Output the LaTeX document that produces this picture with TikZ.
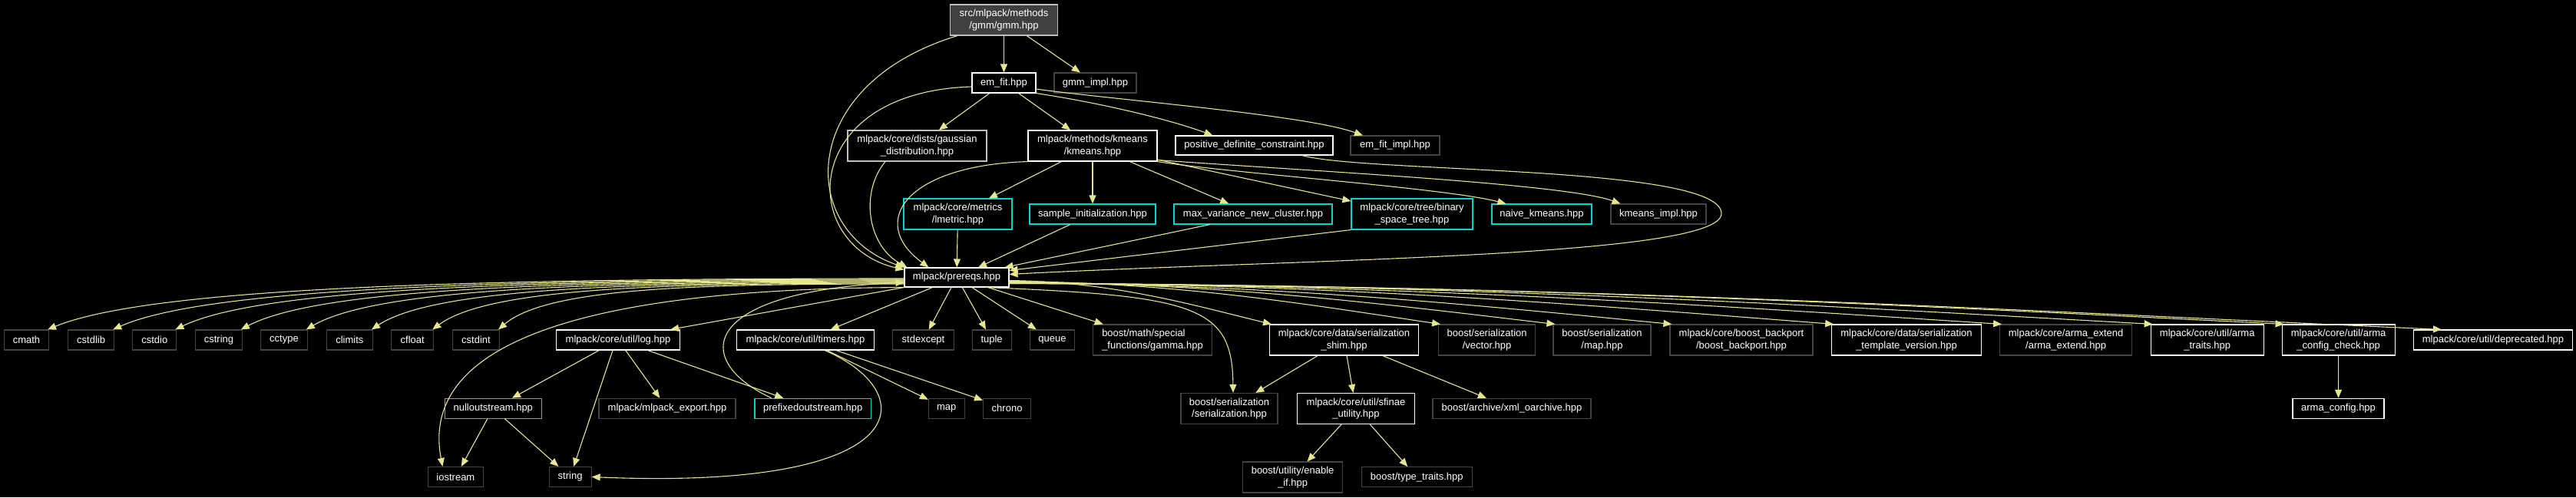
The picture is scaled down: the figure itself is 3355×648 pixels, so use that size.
\documentclass[tikz,border=0pt]{standalone}
\usepackage{fontspec}
\setmainfont{Liberation Sans}
\usetikzlibrary{arrows.meta}
\definecolor{edgec}{HTML}{E6E68F}
\definecolor{extc}{HTML}{444444}
\definecolor{truncc}{RGB}{0,215,215}
\definecolor{rootfill}{HTML}{404040}
\definecolor{rootdraw}{HTML}{BFBFBF}
\tikzset{
  box/.style={draw, rectangle, line width=1.1pt, fill=black, text=white, inner xsep=2pt, inner ysep=0pt,
    align=center, font=\fontsize{13}{15.5}\selectfont, minimum height=26pt},
  tall/.style={minimum height=40pt},
  doc/.style={box, draw=white},
  ext/.style={box, draw=extc},
  trunc/.style={box, draw=truncc},
  root/.style={box, draw=rootdraw, fill=rootfill},
  grayb/.style={box, draw=rootdraw},
  edge/.style={draw=edgec, line width=1.1pt, -{Triangle[length=11pt,width=9pt]}},
}
\begin{document}
\begin{tikzpicture}[x=1pt,y=-1pt]
\fill[black] (0,0) rectangle (3355,648);
\useasboundingbox (0,0) rectangle (3355,648);
% row 1-2
\node[root, tall, minimum width=140pt] (gmm) at (1307.5,26) {src/mlpack/methods\\/gmm/gmm.hpp};
\node[doc, minimum width=83pt] (emfit) at (1307.5,108) {em\_fit.hpp};
\node[ext, minimum width=107pt] (gmmimpl) at (1426.5,108) {gmm\_impl.hpp};
% row 3
\node[grayb, tall, minimum width=181pt] (gauss) at (1194.5,190) {mlpack/core/dists/gaussian\\\_distribution.hpp};
\node[doc, tall, minimum width=168pt] (kmeans) at (1423,190) {mlpack/methods/kmeans\\/kmeans.hpp};
\node[doc, minimum width=205pt, minimum height=25pt] (pdc) at (1633.5,189.5) {positive\_definite\_constraint.hpp};
\node[ext, minimum width=116pt, minimum height=25pt] (emfitimpl) at (1817,189.5) {em\_fit\_impl.hpp};
% row 4
\node[trunc, tall, minimum width=141pt] (lmetric) at (1247.5,279) {mlpack/core/metrics\\/lmetric.hpp};
\node[trunc, minimum width=164pt] (si) at (1423,279) {sample\_initialization.hpp};
\node[trunc, minimum width=206pt] (mv) at (1632,279) {max\_variance\_new\_cluster.hpp};
\node[trunc, tall, minimum width=158pt] (bst) at (1839,279) {mlpack/core/tree/binary\\\_space\_tree.hpp};
\node[trunc, minimum width=130pt] (naive) at (2008,279) {naive\_kmeans.hpp};
\node[ext, minimum width=124pt] (kimpl) at (2160,279) {kmeans\_impl.hpp};
% row 5
\node[doc, minimum width=136pt, minimum height=25pt] (prereqs) at (1246,361.5) {mlpack/prereqs.hpp};
% row 6
\node[ext, minimum width=58pt] (cmath) at (34.5,443) {cmath};
\node[ext, minimum width=60pt] (cstdlib) at (118.6,443) {cstdlib};
\node[ext, minimum width=57pt] (cstdio) at (201.3,443) {cstdio};
\node[ext, minimum width=60.5pt] (cstring) at (285,443) {cstring};
\node[ext, minimum width=60.5pt] (cctype) at (370,443) {cctype};
\node[ext, minimum width=60pt] (climits) at (455.4,443) {climits};
\node[ext, minimum width=55pt] (cfloat) at (537.2,443) {cfloat};
\node[ext, minimum width=61pt] (cstdint) at (620,443) {cstdint};
\node[doc, minimum width=161pt] (log) at (805,443) {mlpack/core/util/log.hpp};
\node[doc, minimum width=179pt] (timers) at (1049,443) {mlpack/core/util/timers.hpp};
\node[ext, minimum width=79.5pt] (stdexcept) at (1202.5,443) {stdexcept};
\node[ext, minimum width=51pt] (tuple) at (1291.6,443) {tuple};
\node[ext, minimum width=57.4pt] (queue) at (1370.5,443) {queue};
\node[ext, tall, minimum width=155pt, align=left] (gamma) at (1501,443) {boost/math/special\\\_functions/gamma.hpp};
\node[doc, tall, minimum width=194pt] (shim) at (1750.5,443) {mlpack/core/data/serialization\\\_shim.hpp};
\node[ext, tall, minimum width=126pt] (vector) at (1936.6,443) {boost/serialization\\/vector.hpp};
\node[ext, tall, minimum width=127pt] (maphpp) at (2086.5,443) {boost/serialization\\/map.hpp};
\node[ext, tall, minimum width=186pt] (backport) at (2268,443) {mlpack/core/boost\_backport\\/boost\_backport.hpp};
\node[doc, tall, minimum width=194.5pt] (tv) at (2483,443) {mlpack/core/data/serialization\\\_template\_version.hpp};
\node[ext, tall, minimum width=172pt] (ae) at (2690.6,443) {mlpack/core/arma\_extend\\/arma\_extend.hpp};
\node[doc, tall, minimum width=147pt] (at) at (2874.7,443) {mlpack/core/util/arma\\\_traits.hpp};
\node[doc, tall, minimum width=147pt] (acc) at (3045.6,443) {mlpack/core/util/arma\\\_config\_check.hpp};
\node[doc, minimum width=207pt] (depr) at (3247,443) {mlpack/core/util/deprecated.hpp};
% row 7
\node[trunc, minimum width=125.5pt] (nos) at (642.3,532.3) {nulloutstream.hpp};
\node[ext, minimum width=178pt] (mexp) at (869,532.3) {mlpack/mlpack\_export.hpp};
\node[trunc, minimum width=151.5pt] (pfo) at (1058.7,532.3) {prefixedoutstream.hpp};
\node[ext, minimum width=46.7pt] (map) at (1232.7,532.3) {map};
\node[ext, minimum width=62pt] (chrono) at (1311.6,532.3) {chrono};
\node[ext, tall, minimum width=126pt] (ser) at (1601,532.5) {boost/serialization\\/serialization.hpp};
\node[doc, tall, minimum width=153pt] (sfinae) at (1766,532.5) {mlpack/core/util/sfinae\\\_utility.hpp};
\node[ext, minimum width=206pt] (xml) at (1969,532.3) {boost/archive/xml\_oarchive.hpp};
\node[doc, minimum width=119pt] (aconf) at (3045.5,532.3) {arma\_config.hpp};
% row 8
\node[ext, minimum width=72pt] (iostream) at (593.4,621.5) {iostream};
\node[ext, minimum width=55pt] (string) at (742.6,621.5) {string};
\node[ext, tall, minimum width=130pt] (enableif) at (1683.6,622) {boost/utility/enable\\\_if.hpp};
\node[ext, minimum width=143.5pt] (tt) at (1845.3,621.7) {boost/type\_traits.hpp};

% edges top
\draw[edge] (gmm) -- (emfit);
\draw[edge] (gmm) -- (gmmimpl);
\draw[edge] ([xshift=10pt]gmm.south west) .. controls +(-208,63) and +(-140,-49) .. (prereqs.north west);
\draw[edge] ([yshift=-5pt]emfit.west) .. controls +(-226,7) and +(-138,-32) .. ([yshift=-3pt]prereqs.north west);
\draw[edge] (emfit) -- (gauss);
\draw[edge] (emfit) -- (kmeans);
\draw[edge] (emfit.south east) .. controls +(80,12) and +(-60,-22) .. ([xshift=-54pt]pdc.north);
\draw[edge] ([yshift=-8pt]emfit.east) .. controls +(101,14) and +(-75,-27) .. ([xshift=-42pt]emfitimpl.north);
\draw[edge] ([xshift=-41.5pt]gauss.south) .. controls +(-33,40) and +(-52,-29) .. ([xshift=4pt]prereqs.north west);
\draw[edge] (kmeans.south west) .. controls +(-159,5) and +(-80,-59) .. ([xshift=32pt]prereqs.north west);
\draw[edge] (kmeans) -- (lmetric);
\draw[edge] (kmeans) -- (si);
\draw[edge] (kmeans) -- (mv);
\draw[edge] (kmeans) -- (bst);
\draw[edge] (kmeans.south east) .. controls +(93,15) and +(-82,-21) .. ([xshift=19pt]naive.north west);
\draw[edge] ([yshift=2pt]kmeans.south east) .. controls +(193,14) and +(-71,-26) .. ([xshift=13pt]kimpl.north west);
\coordinate (loopR) at (2242,278);
\draw[edge] ([xshift=62pt]pdc.south) .. controls +(84,23) and +(-2,-63) .. (loopR)
  .. controls +(2,57) and +(386,-20) .. ([yshift=-9pt]prereqs.north east);
\draw[edge] (lmetric) -- (prereqs);
\draw[edge] (si) -- (prereqs);
\draw[edge] ([xshift=-56pt]mv.south) -- ([xshift=-6pt]prereqs.north east);
\draw[edge] (bst.south west) -- ([yshift=-4pt]prereqs.north east);

% prereqs -> std headers (left bundle)
\draw[edge] ([yshift=-1.5pt]prereqs.west) .. controls +(-558,0) and +(134,-55) .. ([xshift=-2pt]cmath.north east);
\draw[edge] ([yshift=-2.5pt]prereqs.west) .. controls +(-515,0) and +(124,-55) .. ([xshift=-2pt]cstdlib.north east);
\draw[edge] ([yshift=-3.5pt]prereqs.west) .. controls +(-475,0) and +(114,-55) .. ([xshift=-2pt]cstdio.north east);
\draw[edge] ([yshift=-4.5pt]prereqs.west) .. controls +(-432,0) and +(104,-55) .. ([xshift=-2pt]cstring.north east);
\draw[edge] ([yshift=-5.5pt]prereqs.west) .. controls +(-390,0) and +(94,-55) .. ([xshift=-2pt]cctype.north east);
\draw[edge] ([yshift=-6.5pt]prereqs.west) .. controls +(-347,0) and +(83,-55) .. ([xshift=-2pt]climits.north east);
\draw[edge] ([yshift=-7.5pt]prereqs.west) .. controls +(-307,0) and +(74,-55) .. ([xshift=-2pt]cfloat.north east);
\draw[edge] ([yshift=-8.5pt]prereqs.west) .. controls +(-265,0) and +(64,-55) .. ([xshift=-2pt]cstdint.north east);
\draw[edge] (prereqs.south west) -- ([xshift=-13pt]log.north east);
\draw[edge] (prereqs) -- (timers);
\draw[edge] (prereqs) -- (stdexcept);
\draw[edge] (prereqs) -- (tuple);
\draw[edge] (prereqs) -- (queue);
\draw[edge] (prereqs) -- (gamma);
\draw[edge] ([xshift=2pt]prereqs.south west) .. controls +(-330,1) and +(-36,-188) .. ([xshift=-17pt]iostream.north);
\draw[edge] ([xshift=38pt]prereqs.south) .. controls +(276,11) and +(-1,-112) .. ([xshift=5pt]ser.north);
\draw[edge] ([xshift=-54pt]pfo.north) .. controls +(-105,-49) and +(-268,12) .. ([yshift=-6.5pt]prereqs.west);

% prereqs -> right row
\draw[edge] ([yshift=-4pt]prereqs.east) .. controls +(137,2) and +(-103,-25) .. ([xshift=3pt]shim.north west);
\draw[edge] ([yshift=-5pt]prereqs.east) .. controls +(225,2) and +(-169,-25) .. ([xshift=3pt]vector.north west);
\draw[edge] ([yshift=-6pt]prereqs.east) .. controls +(285,2) and +(-214,-25) .. ([xshift=3pt]maphpp.north west);
\draw[edge] ([yshift=-7pt]prereqs.east) .. controls +(346,2) and +(-259,-25) .. ([xshift=3pt]backport.north west);
\draw[edge] ([yshift=-7pt]prereqs.east) .. controls +(430,2) and +(-322,-25) .. ([xshift=3pt]tv.north west);
\draw[edge] ([yshift=-7.5pt]prereqs.east) .. controls +(517,2) and +(-388,-25) .. ([xshift=3pt]ae.north west);
\draw[edge] ([yshift=-7.5pt]prereqs.east) .. controls +(596,2) and +(-447,-25) .. ([xshift=3pt]at.north west);
\draw[edge] ([yshift=-8pt]prereqs.east) .. controls +(664,2) and +(-498,-25) .. ([xshift=3pt]acc.north west);
\draw[edge] ([yshift=-8pt]prereqs.east) .. controls +(747,2) and +(-560,-25) .. ([xshift=37pt]depr.north west);

% lower edges
\draw[edge] (log) -- (nos);
\draw[edge] ([xshift=-7pt]log.south) -- (string);
\draw[edge] (log) -- (mexp);
\draw[edge] (log) -- (pfo);
\draw[edge] (timers) -- (map);
\draw[edge] (timers) -- (chrono);
\draw[edge] ([xshift=25pt]timers.south) .. controls +(126,54) and +(430,18) .. (string.east);
\draw[edge] (nos) -- (iostream);
\draw[edge] (nos) -- (string);
\draw[edge] (shim) -- (ser);
\draw[edge] (shim) -- (sfinae);
\draw[edge] (shim) -- (xml);
\draw[edge] (sfinae) -- (enableif);
\draw[edge] (sfinae) -- (tt);
\draw[edge] (acc) -- (aconf);
\end{tikzpicture}
\end{document}
